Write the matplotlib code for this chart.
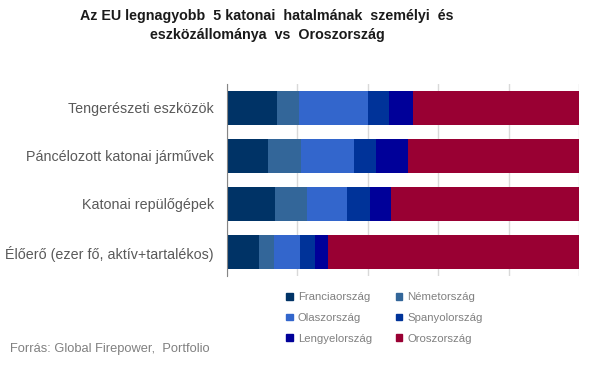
import numpy as np
import matplotlib.pyplot as plt
from matplotlib.patches import Patch

plt.rcParams["font.family"] = ["Liberation Sans", "DejaVu Sans"]

# Data (percent share of each row)
categories = [
    "Tengerészeti eszközök",
    "Páncélozott katonai járművek",
    "Katonai repülőgépek",
    "Élőerő (ezer fő, aktív+tartalékos)",
]
countries = ["Franciaország", "Németország", "Olaszország",
             "Spanyolország", "Lengyelország", "Oroszország"]
franciaorszag = [14.1, 11.6, 13.6, 9.0]
nemetorszag = [6.3, 9.4, 9.1, 4.3]
olaszorszag = [19.6, 15.1, 11.4, 7.4]
spanyolorszag = [6.0, 6.3, 6.5, 4.3]
lengyelorszag = [6.8, 9.1, 6.0, 3.7]
oroszorszag = [47.2, 48.6, 53.4, 71.3]
colors = ["#003366", "#336699", "#3366CC", "#003399", "#000099", "#990033"]

series = [franciaorszag, nemetorszag, olaszorszag,
          spanyolorszag, lengyelorszag, oroszorszag]

fig = plt.figure(figsize=(6.06, 3.79), dpi=100)
W, H = 606, 379
ax = fig.add_axes([227 / W, 1 - 276 / H, 352 / W, 192 / H])

y = np.arange(len(categories))
left = np.zeros(len(categories))
for vals, name, col in zip(series, countries, colors):
    vals = np.array(vals)
    ax.barh(y, vals, left=left, height=0.72, color=col, label=name, zorder=3)
    left += vals

ax.set_xlim(0, left.max())
ax.set_ylim(len(categories) - 0.5, -0.5)
ax.set_xticks(np.linspace(0, left.max(), 6))
ax.set_xticklabels([])
ax.tick_params(axis="x", length=0)
ax.grid(axis="x", color="#d9d9d9", linewidth=1, zorder=0)
ax.set_yticks(y)
ax.set_yticklabels(categories, fontsize=10.3, color="#595959")
ax.tick_params(axis="y", length=0, pad=9.5)
for s in ["top", "right", "bottom"]:
    ax.spines[s].set_visible(False)
ax.spines["left"].set_color("#868686")
ax.spines["left"].set_zorder(4)

# legend is filled row by row in the reference, matplotlib fills by column
handles = [Patch(color=c, label=n) for c, n in zip(colors, countries)]
order = [0, 2, 4, 1, 3, 5]
fig.legend(handles=[handles[i] for i in order], ncol=2, loc="center left",
           bbox_to_anchor=(276 / W, 1 - 318 / H), frameon=False,
           fontsize=8.2, labelcolor="#808080", handlelength=0.55,
           handleheight=0.55, handletextpad=0.45, columnspacing=2.1,
           labelspacing=0.95)

fig.text(267 / W, 1 - 16 / H, "Az EU legnagyobb  5 katonai  hatalmának  személyi  és",
         ha="center", va="center", fontsize=10.3, fontweight="bold", color="#1a1a1a")
fig.text(267 / W, 1 - 35 / H, "eszközállománya  vs  Oroszország",
         ha="center", va="center", fontsize=10.3, fontweight="bold", color="#1a1a1a")
fig.text(10 / W, 1 - 349 / H, "Forrás: Global Firepower,  Portfolio",
         ha="left", va="center", fontsize=9.3, color="#808080")

fig.savefig("out.png", dpi=100)
